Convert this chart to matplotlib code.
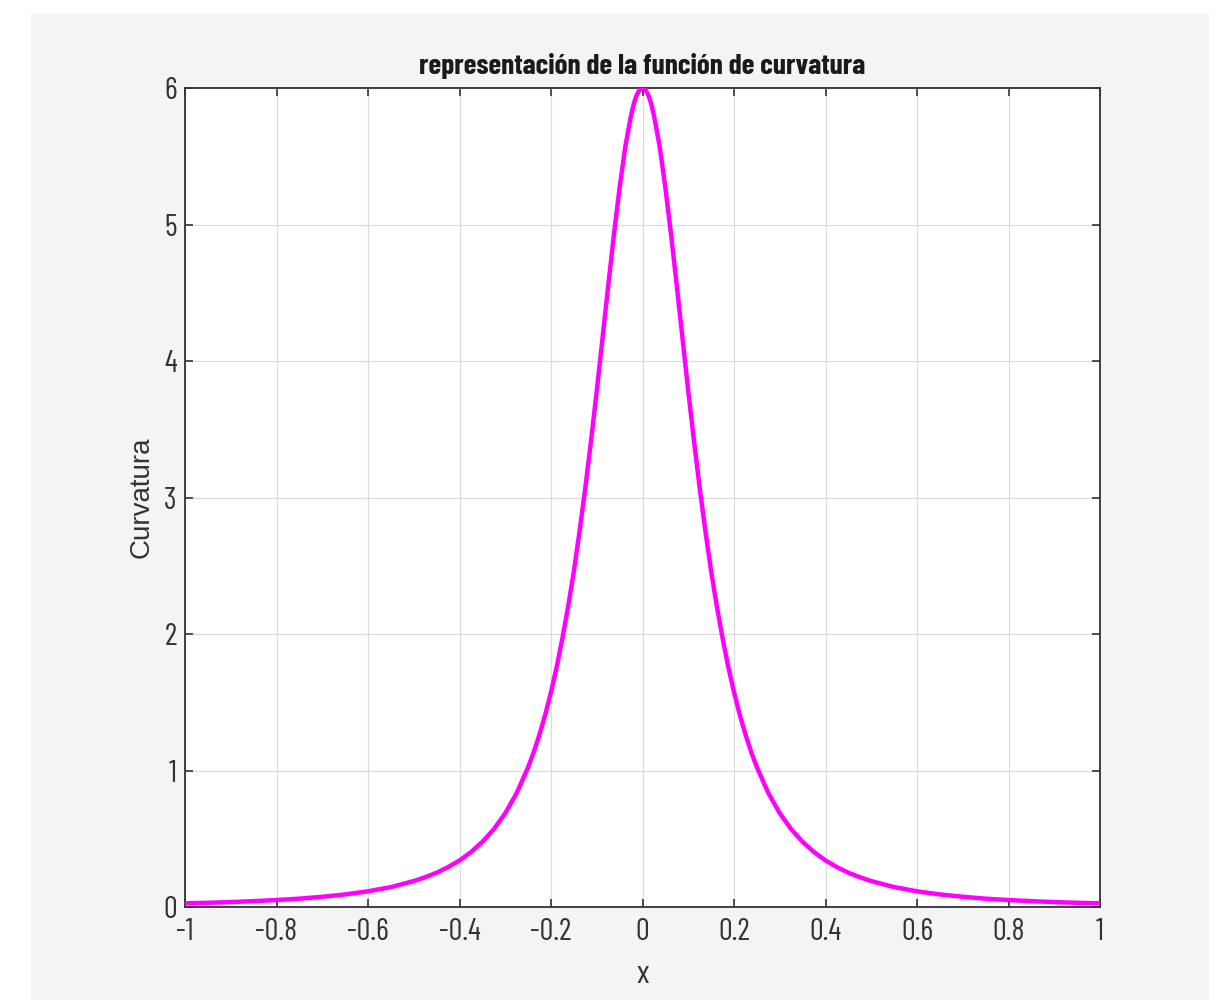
import matplotlib.pyplot as plt
from matplotlib.patches import Rectangle

# values
x_vals = [-1.0, -0.95, -0.9, -0.85, -0.8, -0.75, -0.7, -0.65, -0.6, -0.55,
          -0.5, -0.475, -0.45, -0.425, -0.4, -0.375, -0.35, -0.325, -0.3, -0.275,
          -0.25, -0.2375, -0.225, -0.2125, -0.2, -0.1875, -0.175, -0.1625, -0.15,
          -0.1375, -0.125, -0.1125, -0.1, -0.0875, -0.075, -0.0625, -0.05,
          -0.0375, -0.025, -0.01875, -0.0125, -0.00625, 0.0,
          0.00625, 0.0125, 0.01875, 0.025, 0.0375, 0.05, 0.0625, 0.075, 0.0875,
          0.1, 0.1125, 0.125, 0.1375, 0.15, 0.1625, 0.175, 0.1875, 0.2, 0.2125,
          0.225, 0.2375, 0.25, 0.275, 0.3, 0.325, 0.35, 0.375, 0.4, 0.425, 0.45,
          0.475, 0.5, 0.55, 0.6, 0.65, 0.7, 0.75, 0.8, 0.85, 0.9, 0.95, 1.0]
k_vals = [0.027, 0.031, 0.036, 0.043, 0.051, 0.061, 0.075, 0.092, 0.115, 0.146,
          0.190, 0.218, 0.251, 0.292, 0.341, 0.402, 0.477, 0.570, 0.687, 0.835,
          1.024, 1.137, 1.265, 1.410, 1.574, 1.759, 1.97, 2.202, 2.46,
          2.754, 3.07, 3.416, 3.78, 4.164, 4.55, 4.925, 5.27,
          5.572, 5.80, 5.888, 5.95, 5.987, 6.0,
          5.987, 5.95, 5.888, 5.80, 5.572, 5.27, 4.925, 4.55, 4.164,
          3.78, 3.416, 3.07, 2.754, 2.46, 2.202, 1.97, 1.759, 1.574, 1.410,
          1.265, 1.137, 1.024, 0.835, 0.687, 0.570, 0.477, 0.402, 0.341, 0.292, 0.251,
          0.218, 0.190, 0.146, 0.115, 0.092, 0.075, 0.061, 0.051, 0.043, 0.036, 0.031, 0.027]

x_ticks = [-1, -0.8, -0.6, -0.4, -0.2, 0, 0.2, 0.4, 0.6, 0.8, 1]
x_tick_labels = ["-1", "-0.8", "-0.6", "-0.4", "-0.2", "0", "0.2", "0.4", "0.6", "0.8", "1"]
y_ticks = [0, 1, 2, 3, 4, 5, 6]
y_tick_labels = ["0", "1", "2", "3", "4", "5", "6"]

narrow = ["Barlow Condensed", "Archivo Narrow", "DejaVu Sans"]
wide = ["Liberation Sans", "DejaVu Sans"]
text_col = "#333333"

fig = plt.figure(figsize=(12.22, 10), dpi=100)
fig.patch.set_facecolor("white")
fig.patches.append(Rectangle((31 / 1222, 0), (1209 - 31) / 1222, 986 / 1000,
                             transform=fig.transFigure, facecolor="#f4f4f4",
                             edgecolor="none", zorder=-10))

ax = fig.add_axes([185 / 1222, 93 / 1000, 915 / 1222, 819 / 1000])
ax.set_facecolor("white")
ax.plot(x_vals, k_vals, color="#ff00ff", lw=3.2, zorder=3,
        solid_joinstyle="round")

ax.set_xlim(-1, 1)
ax.set_ylim(0, 6)
ax.set_xticks(x_ticks)
ax.set_xticklabels(x_tick_labels, family=narrow, fontsize=22, color=text_col)
ax.set_yticks(y_ticks)
ax.set_yticklabels(y_tick_labels, family=narrow, fontsize=22, color=text_col)
ax.tick_params(direction="in", top=True, right=True, length=6, width=1.2,
               color=text_col)
ax.tick_params(axis="x", pad=8)
ax.tick_params(axis="y", pad=6)
ax.grid(True, color="#dcdcdc", lw=0.9)
ax.set_axisbelow(True)
for s in ax.spines.values():
    s.set_color(text_col)
    s.set_linewidth(1.3)

ax.set_xlabel("x", family=narrow, fontsize=24, color=text_col, labelpad=10)
ax.set_ylabel("Curvatura", family=wide, fontsize=20, color=text_col, labelpad=6)
ax.set_title("representación de la función de curvatura", family=narrow,
             fontsize=21, fontweight="bold", color="#1a1a1a", pad=10)

fig.savefig("out.png", dpi=100)
